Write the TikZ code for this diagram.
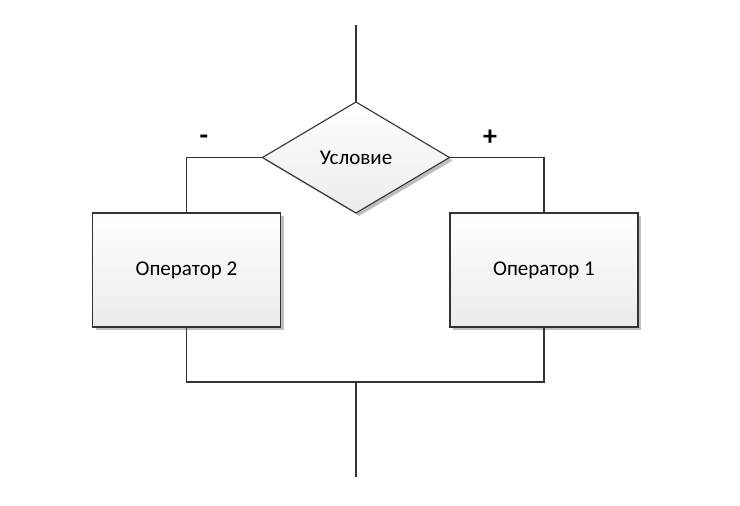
\documentclass[tikz,border=0pt]{standalone}
\usepackage{fontspec}
\setmainfont{Carlito}
\usetikzlibrary{shapes.geometric,shadows}
\definecolor{linec}{HTML}{333333}
\definecolor{fillc}{HTML}{EBEBEB}
\tikzset{
  x=1pt,y=-1pt,
  shapebase/.style={draw=linec,line width=1.1pt,top color=white,bottom color=fillc,
    drop shadow={shadow xshift=3pt,shadow yshift=-3pt,fill=black!25,opacity=1},
    font=\fontsize{21}{24}\selectfont,inner sep=0pt,outer sep=0pt},
  opbox/.style={shapebase,rectangle,minimum width=188pt,minimum height=114pt},
  cond/.style={shapebase,diamond,minimum width=187pt,minimum height=111pt,aspect=1.68},
  conn/.style={draw=linec,line width=1.1pt},
  sign/.style={font=\fontsize{28}{30}\selectfont\bfseries,inner sep=0pt}
}
\begin{document}
\begin{tikzpicture}
\useasboundingbox (0,0) rectangle (740,506);
\fill[white] (0,0) rectangle (740,506);
\coordinate (top) at (356,25);
\coordinate (bot) at (356,477);
\node[cond] (c) at (356,157.5) {Условие};
\node[opbox] (o2) at (186.5,270) {Оператор 2};
\node[opbox] (o1) at (544,270) {Оператор 1};
\coordinate (j) at (356,382);
\draw[conn] (top) -- (c.north);
\draw[conn] (c.west) -| (o2.north);
\draw[conn] (c.east) -| (o1.north);
\draw[conn] (o2.south) |- (j) -| (o1.south);
\draw[conn] (j) -- (bot);
\node[sign] (minus) at (204,140) {-};
\node[sign] (plus) at (490,138) {+};
\end{tikzpicture}
\end{document}
